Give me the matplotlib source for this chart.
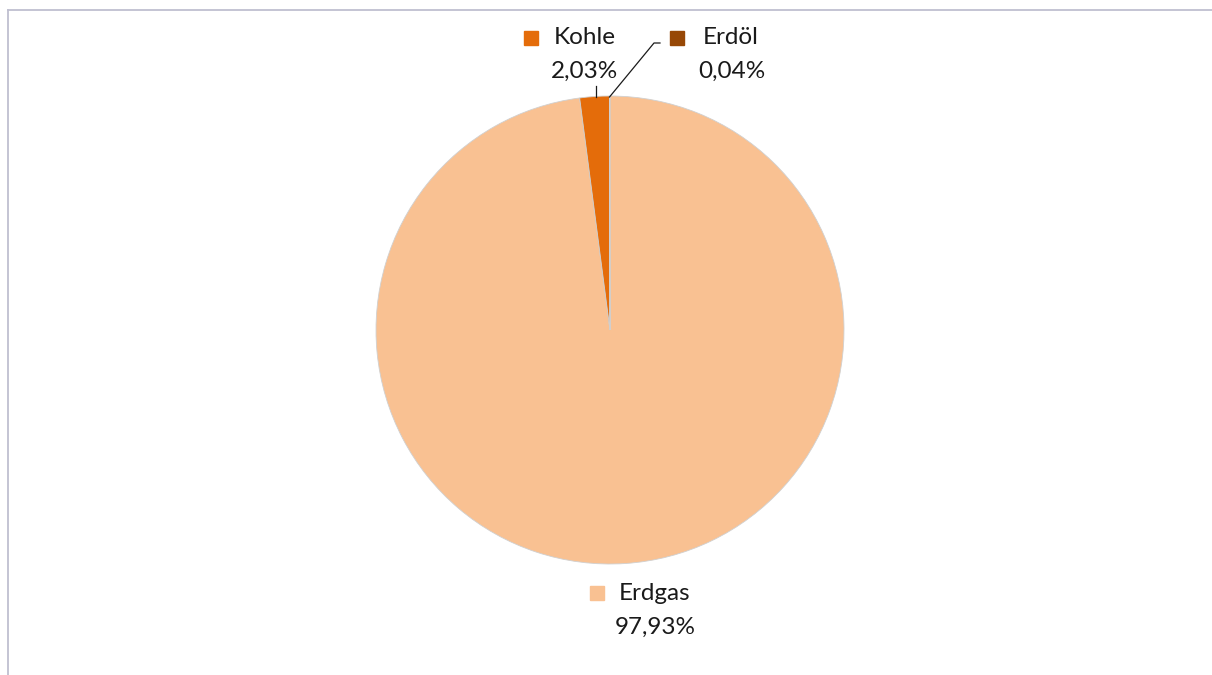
import matplotlib
matplotlib.use("Agg")
import matplotlib.pyplot as plt
from matplotlib.lines import Line2D

categories = ["Erdgas", "Kohle", "Erdöl"]
values = [97.93, 2.03, 0.04]
colors = ["#F9C192", "#E46C0A", "#974806"]

W, H = 1212, 675
fig = plt.figure(figsize=(W / 100, H / 100), dpi=100)
ax = fig.add_axes([0, 0, 1, 1])

def Y(py):
    return H - py

# frame
fig.add_artist(Line2D([7.5 / W, 7.5 / W], [0, 1 - 9.5 / H], color="#BFBFD0", lw=1.3, transform=fig.transFigure))
fig.add_artist(Line2D([7.5 / W, 1], [1 - 9.5 / H, 1 - 9.5 / H], color="#BFBFD0", lw=1.3, transform=fig.transFigure))

cx, cy, r = 610, Y(330), 234
wedges, _ = ax.pie(values, colors=colors, startangle=90, counterclock=False,
                   center=(cx, cy), radius=r, frame=True,
                   wedgeprops=dict(edgecolor="#D0D0D0", linewidth=0.6))
ax.set_xlim(0, W)
ax.set_ylim(0, H)
ax.set_aspect("equal")
ax.axis("off")

font = dict(family=["Lato", "DejaVu Sans"], fontsize=17.5, color="#1a1a1a")

def fmt(v):
    return f"{v:.2f}".replace(".", ",") + "%"

# label layout: (square x, name x, y name, y value, value x)
layout = {
    "Kohle": (531, 585, 38, 71, 584),
    "Erdöl": (677, 731, 38, 71, 732),
    "Erdgas": (597, 655, 593, 627, 655),
}
for cat, val, col in zip(categories, values, colors):
    sx, nx, ny, vy, vx = layout[cat]
    ax.plot([sx], [Y(ny)], marker="s", markersize=9.5, color=col, mec=col)
    ax.text(nx, Y(ny), cat, ha="center", va="center", **font)
    ax.text(vx, Y(vy), fmt(val), ha="center", va="center", **font)

# leader lines
ax.plot([596, 596], [Y(86), Y(97)], color="#1a1a1a", lw=0.9)
ax.plot([609.5, 654, 660], [Y(97), Y(43), Y(43)], color="#1a1a1a", lw=0.9)

fig.savefig("out.png", dpi=100)
